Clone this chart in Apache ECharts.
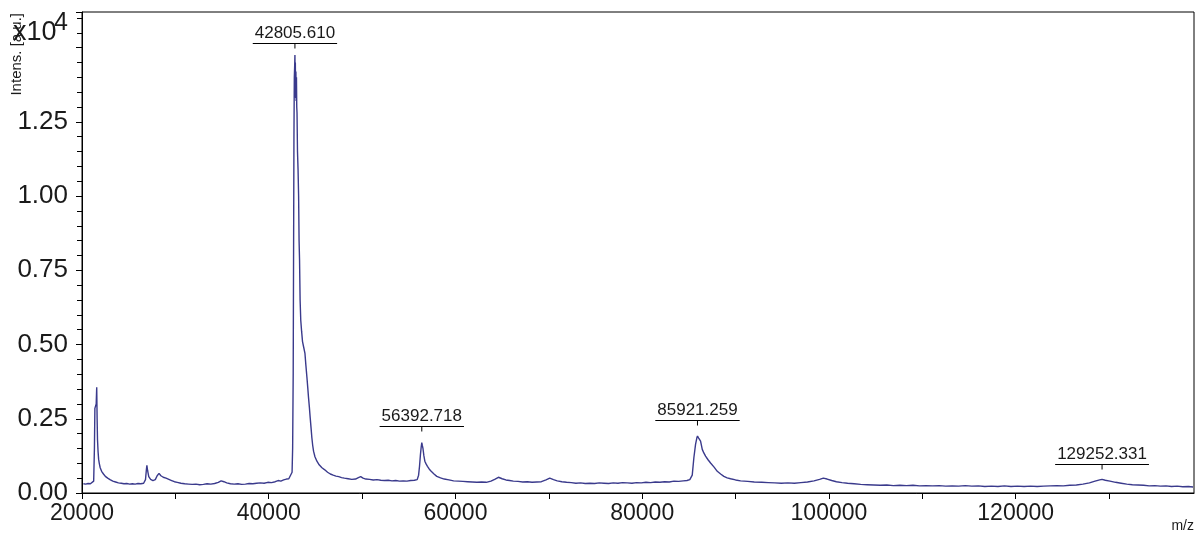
<!DOCTYPE html>
<html>
<head>
<meta charset="utf-8">
<script src="https://cdn.jsdelivr.net/npm/echarts@6/dist/echarts.min.js"></script>
<style>
html,body{margin:0;padding:0;background:#fff;}
#chart{width:1200px;height:539px;}
</style>
</head>
<body>
<div id="chart"></div>
<script>
// m/z values (Da) and intensities (x10^4 a.u.)
const mz = [
20150,20400,20650,20900,21100,21250,21330,21380,21450,21520,21576,21620,21660,21720,21780,21850,21950,22100,22300,22500,22750,23000,23300,23600,23900,24200,24500,24800,25100,25400,25700,26000,26300,26600,26800,26900,26950,27030,27150,27350,27600,27850,28050,28250,28450,28700,29000,29300,29600,29900,30200,30600,31000,31400,31800,32200,32600,33000,33400,33800,34200,34600,34900,35200,35500,35900,36300,36700,37100,37500,37900,38300,38700,39100,39500,39900,40300,40700,41000,41300,41600,41900,42150,42350,42500,42560,42620,42660,42700,42740,42780,42806,42830,42850,42880,42910,42940,42970,43000,43030,43080,43140,43200,43250,43300,43360,43430,43520,43620,43750,43880,43980,44090,44180,44260,44350,44440,44530,44620,44710,44800,44950,45160,45400,45700,46000,46300,46600,46900,47200,47500,47800,48100,48500,48900,49300,49600,49850,50100,50400,50800,51200,51600,52000,52400,52800,53200,53600,54000,54400,54800,55200,55600,55900,56050,56150,56250,56330,56393,56450,56520,56620,56720,56850,57000,57200,57400,57700,58000,58400,58800,59300,59800,60300,60800,61300,61800,62300,62800,63300,63800,64200,64600,65000,65400,65800,66200,66700,67200,67700,68200,68700,69200,69700,70100,70500,70900,71400,71900,72400,72900,73400,73900,74400,74900,75400,75900,76400,76900,77400,77900,78400,78900,79400,79900,80400,80900,81400,81900,82400,82900,83400,83900,84400,84800,85100,85360,85531,85714,85850,85921,86050,86250,86433,86600,86786,87050,87322,87700,88040,88400,88747,89100,89466,90000,90538,91300,92000,92800,93500,94200,94900,95600,96300,97000,97700,98400,99000,99400,99800,100300,100800,101400,102000,102700,103400,104100,104800,105500,106200,106900,107600,108300,109000,109700,110400,111100,111800,112500,113200,113900,114600,115300,116000,116700,117400,118100,118800,119500,120200,120900,121600,122300,123000,123700,124400,125100,125800,126500,127200,127900,128500,129000,129252,129600,130100,130700,131300,131900,132500,133100,133700,134300,134900,135500,136100,136700,137300,137900,138500,139000
];
const intensity = [
0.031,0.030,0.032,0.031,0.033,0.040,0.150,0.285,0.280,0.300,0.356,0.250,0.180,0.140,0.114,0.100,0.085,0.073,0.064,0.056,0.050,0.045,0.040,0.037,0.034,0.033,0.031,0.032,0.030,0.031,0.030,0.032,0.031,0.033,0.045,0.080,0.093,0.075,0.055,0.046,0.042,0.045,0.058,0.066,0.058,0.053,0.050,0.046,0.042,0.038,0.036,0.033,0.031,0.030,0.029,0.030,0.028,0.029,0.031,0.030,0.032,0.036,0.041,0.038,0.034,0.031,0.030,0.031,0.029,0.030,0.032,0.031,0.033,0.034,0.033,0.036,0.035,0.038,0.042,0.040,0.044,0.047,0.048,0.050,0.070,0.150,0.400,0.800,1.200,1.400,1.440,1.475,1.380,1.450,1.330,1.420,1.320,1.400,1.300,1.280,1.150,1.090,1.000,0.850,0.786,0.650,0.582,0.545,0.510,0.490,0.470,0.430,0.390,0.355,0.322,0.290,0.254,0.220,0.186,0.160,0.141,0.122,0.107,0.095,0.085,0.078,0.070,0.064,0.060,0.057,0.055,0.052,0.050,0.048,0.046,0.047,0.052,0.055,0.050,0.047,0.046,0.044,0.045,0.043,0.042,0.043,0.041,0.042,0.040,0.041,0.040,0.042,0.043,0.045,0.060,0.090,0.130,0.155,0.170,0.160,0.150,0.125,0.107,0.098,0.090,0.080,0.073,0.064,0.056,0.051,0.047,0.044,0.041,0.040,0.039,0.038,0.037,0.036,0.037,0.036,0.040,0.046,0.053,0.048,0.044,0.042,0.040,0.039,0.037,0.038,0.036,0.037,0.038,0.044,0.050,0.045,0.041,0.038,0.036,0.035,0.033,0.034,0.032,0.033,0.032,0.034,0.033,0.032,0.034,0.033,0.035,0.034,0.033,0.035,0.034,0.036,0.035,0.037,0.036,0.038,0.037,0.040,0.039,0.041,0.042,0.045,0.060,0.118,0.164,0.185,0.192,0.185,0.175,0.147,0.135,0.124,0.112,0.101,0.087,0.073,0.064,0.056,0.051,0.048,0.044,0.041,0.039,0.037,0.036,0.035,0.034,0.033,0.034,0.033,0.035,0.037,0.041,0.046,0.050,0.047,0.042,0.038,0.035,0.033,0.031,0.029,0.028,0.027,0.026,0.027,0.025,0.026,0.025,0.026,0.024,0.025,0.024,0.025,0.023,0.024,0.023,0.025,0.023,0.024,0.022,0.023,0.022,0.024,0.022,0.023,0.022,0.023,0.022,0.023,0.024,0.025,0.024,0.026,0.027,0.030,0.034,0.040,0.044,0.046,0.043,0.040,0.036,0.033,0.030,0.028,0.027,0.026,0.024,0.025,0.023,0.024,0.022,0.023,0.021,0.022,0.020
];
// annotated peaks
const peakMz = [42806, 56393, 85921, 129252];
const peakApex = [1.465, 0.175, 0.195, 0.047];
const peakLabels = ['42805.610', '56392.718', '85921.259', '129252.331'];
// axis settings
const xMin = 20000, xMax = 139100, xStep = 10000;
const yMin = 0, yMax = 1.62, yStep = 0.25;

const FONT = '"Liberation Sans", Arial, sans-serif';
const LINE_COLOR = '#3a3a8c';
const spectrum = mz.map((m, i) => [m, intensity[i]]);
const peaks = peakMz.map((m, i) => [m, peakApex[i]]);

const measureCtx = document.createElement('canvas').getContext('2d');
const PEAK_FONT = '17px ' + FONT;
measureCtx.font = PEAK_FONT;

const chart = echarts.init(document.getElementById('chart'), null, {renderer: 'canvas'});
chart.setOption({
  animation: false,
  backgroundColor: '#fff',
  grid: {left: 82, right: 6, top: 12, bottom: 46, show: true, borderColor: '#000', borderWidth: 1, containLabel: false},
  xAxis: {
    type: 'value', min: xMin, max: xMax, interval: xStep,
    axisLine: {onZero: false, lineStyle: {color: '#000', width: 1}},
    axisTick: {show: true, length: 6, lineStyle: {color: '#000'}},
    splitLine: {show: false},
    axisLabel: {
      color: '#1a1a1a', fontSize: 23, fontFamily: FONT, margin: 9,
      showMaxLabel: false,
      formatter: v => (Math.round(v) % 20000 === 0 ? String(Math.round(v)) : '')
    }
  },
  yAxis: {
    type: 'value', min: yMin, max: yMax, interval: yStep,
    axisLine: {show: true, lineStyle: {color: '#000', width: 1}},
    axisTick: {show: true, length: 6, lineStyle: {color: '#000'}},
    minorTick: {show: true, splitNumber: 5, length: 5, lineStyle: {color: '#000'}},
    splitLine: {show: false},
    axisLabel: {
      color: '#1a1a1a', fontSize: 26, fontFamily: FONT, margin: 14,
      showMaxLabel: false,
      formatter: v => (v > 1.4 ? '' : v.toFixed(2))
    }
  },
  graphic: [
    {type: 'text', left: 9, top: 13, rotation: Math.PI / 2,
     style: {text: 'Intens. [a.u.]', font: '15px ' + FONT, fill: '#1a1a1a'}},
    {type: 'text', left: 13, top: 19,
     style: {text: 'x10', font: '27px ' + FONT, fill: '#1a1a1a'}},
    {type: 'text', left: 54, top: 11,
     style: {text: '4', font: '25px ' + FONT, fill: '#1a1a1a'}},
    {type: 'text', right: 6, bottom: 6,
     style: {text: 'm/z', font: '14px ' + FONT, fill: '#1a1a1a'}}
  ],
  series: [
    {
      type: 'line', data: spectrum, showSymbol: false, symbol: 'none',
      lineStyle: {color: LINE_COLOR, width: 1.4}, z: 3
    },
    {
      type: 'custom', data: peaks, clip: false, z: 4,
      renderItem: function (params, api) {
        const p = api.coord([api.value(0), api.value(1)]);
        const txt = peakLabels[params.dataIndex];
        const w = measureCtx.measureText(txt).width + 4;
        const uy = Math.round(p[1] - 15) + 0.5;
        return {
          type: 'group',
          children: [
            {type: 'line', shape: {x1: p[0] - w / 2, y1: uy, x2: p[0] + w / 2, y2: uy},
             style: {stroke: '#000', lineWidth: 1}},
            {type: 'line', shape: {x1: p[0], y1: uy, x2: p[0], y2: uy + 5},
             style: {stroke: '#000', lineWidth: 1}},
            {type: 'text', x: p[0], y: uy - 2,
             style: {text: txt, font: PEAK_FONT, fill: '#1a1a1a', align: 'center', verticalAlign: 'bottom'}}
          ]
        };
      }
    }
  ]
});
</script>
</body>
</html>
